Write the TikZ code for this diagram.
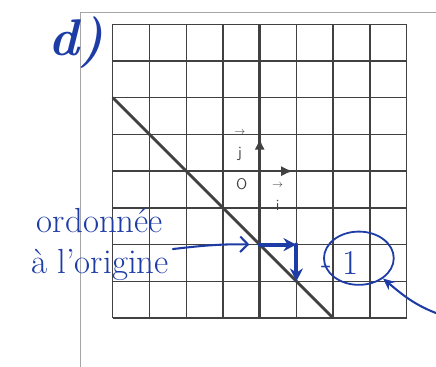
\documentclass[tikz,border=0pt]{standalone}
\usepackage{tikz}
\usetikzlibrary{positioning,shapes.geometric,arrows.meta}
\definecolor{penblue}{RGB}{30, 60, 165}
\definecolor{leadgray}{RGB}{65, 65, 65}

\begin{document}
\begin{tikzpicture}[
        pen/.style={penblue, line width=1.6pt, line cap=round},
        hand/.style={text=penblue, font=\fontsize{27}{29}\selectfont, inner sep=0pt},
        mark label/.style={text=leadgray, font=\sffamily\large, inner sep=1pt}
    ]
        \useasboundingbox (-7.07,-5.31) rectangle (4.80,4.66);

        % page margin
        \draw[gray!70, line width=0.6pt] (-4.87,-5.4) -- (-4.87,4.33) -- (4.9,4.33);

        % grid, axes and unit vectors
        \draw[leadgray, line width=1.1pt] (-4,-4) grid (4,4);
        \draw[leadgray, line width=1.9pt] (-4,0) -- (4,0);
        \draw[leadgray, line width=1.9pt] (0,-4) -- (0,4);
        \coordinate (O) at (0,0);
        \coordinate (I) at (0.9,0);
        \coordinate (J) at (0,0.9);
        \draw[leadgray, line width=1.9pt, -{Latex[length=9pt,width=8pt]}] (O) -- (I);
        \draw[leadgray, line width=1.9pt, -{Latex[length=9pt,width=8pt]}] (O) -- (J);
        \node[mark label] (o) at (-0.49,-0.36) {O};
        \node[mark label, align=center] (j) at (-0.54,0.7) {$\scriptstyle\rightarrow$\\[4pt]j};
        \node[mark label, align=center] (i) at (0.49,-0.7) {$\scriptstyle\rightarrow$\\[4pt]i};

        % the line
        \coordinate (top) at (-4,2);
        \coordinate (bot) at (2,-4);
        \draw[leadgray, line width=2.2pt] (top) -- (bot);

        % slope steps
        \coordinate (yint) at (0,-2);
        \coordinate (run) at (1,-2);
        \coordinate (rise) at (1,-3);
        \draw[pen, line width=3pt, -{Stealth[length=10pt,width=10pt]}] (yint) -- (run);
        \draw[pen, line width=3pt, -{Stealth[length=10pt,width=10pt]}] (run) -- (rise);

        % handwriting
        \node[text=penblue, font=\fontsize{40}{44}\selectfont\bfseries\itshape] (part) at (-5.0,3.5) {d)};
        \node[hand] (ord) at (-4.35,-1.33) {ordonnée};
        \node[hand, below=0.45cm of ord] (orig) {à l'origine};
        \draw[pen, -{Straight Barb[length=6pt]}, shorten >=8pt] ([xshift=3pt]orig.north east) to[bend left=4] (yint);

        \node[hand] (slope) at (2.2,-2.5) {- 1};
        \node[ellipse, draw=penblue, line width=1.4pt, minimum width=1.9cm, minimum height=1.45cm] (loop) at (2.7,-2.37) {};
        \coordinate (tail) at (4.9,-3.9);
        \draw[pen, -{Stealth[open,length=9pt,width=8pt]}] (tail) to[out=160, in=-40] (loop.-40);
    \end{tikzpicture}
\end{document}
